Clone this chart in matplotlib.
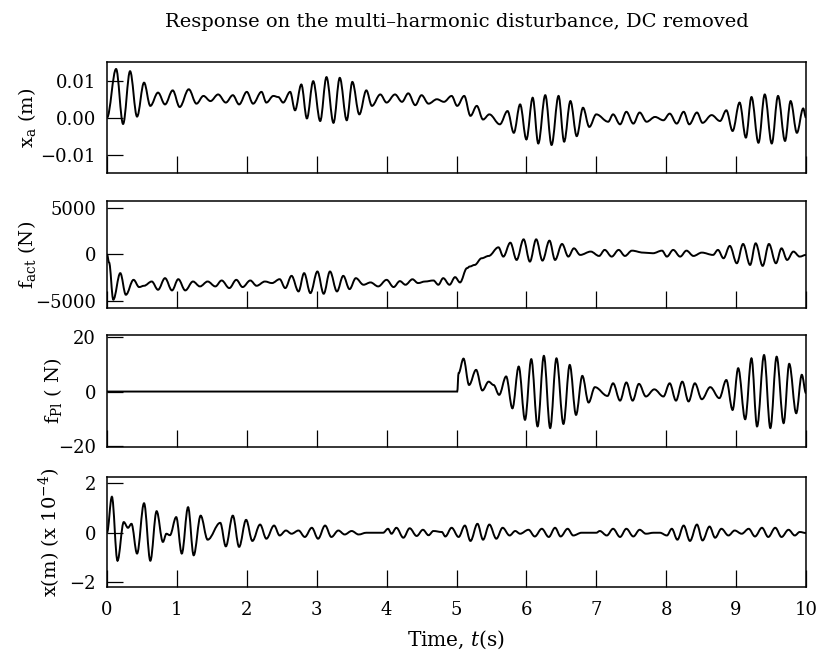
import matplotlib
matplotlib.use("Agg")
import matplotlib.pyplot as plt
from matplotlib.path import Path
from matplotlib.patches import PathPatch

plt.rcParams['font.family'] = 'DejaVu Serif'
plt.rcParams['mathtext.fontset'] = 'dejavuserif'

# (time s, value) pairs at peaks / troughs
xa_pts = [(0.00, 0.0), (0.13, 0.0132), (0.23, -0.0017), (0.33, 0.0126), (0.43, 0.0003),
          (0.53, 0.0095), (0.62, 0.0032), (0.73, 0.0068), (0.83, 0.0036), (0.94, 0.0074),
          (1.04, 0.0029), (1.17, 0.0077), (1.28, 0.0038), (1.38, 0.0059), (1.48, 0.0045),
          (1.59, 0.0063), (1.70, 0.0041), (1.80, 0.0061), (1.89, 0.0036), (2.00, 0.0070),
          (2.09, 0.0038), (2.21, 0.0070), (2.28, 0.0041), (2.38, 0.0059), (2.45, 0.0056),
          (2.52, 0.0041), (2.62, 0.0070), (2.69, 0.0020), (2.78, 0.0090), (2.86, -0.0002),
          (2.95, 0.0099), (3.05, -0.0009), (3.14, 0.0110), (3.24, -0.0014), (3.33, 0.0108),
          (3.43, -0.0007), (3.51, 0.0097), (3.61, 0.0009), (3.71, 0.0074), (3.79, 0.0032),
          (3.91, 0.0063), (4.00, 0.0041), (4.12, 0.0063), (4.22, 0.0043), (4.31, 0.0066),
          (4.41, 0.0034), (4.50, 0.0061), (4.60, 0.0038), (4.72, 0.0050), (4.82, 0.0043),
          (4.93, 0.0059), (5.01, 0.0032), (5.11, 0.0059), (5.20, 0.0005), (5.29, 0.0032),
          (5.38, -0.0005), (5.47, 0.0009), (5.62, -0.0018), (5.73, 0.0018), (5.82, -0.0041),
          (5.91, 0.0036), (6.00, -0.0059), (6.09, 0.0054), (6.17, -0.0070), (6.27, 0.0061),
          (6.36, -0.0074), (6.46, 0.0059), (6.54, -0.0065), (6.63, 0.0045), (6.72, -0.0050),
          (6.81, 0.0027), (6.90, -0.0025), (7.00, 0.0009), (7.17, -0.0011), (7.24, 0.0009),
          (7.34, -0.0018), (7.43, 0.0016), (7.53, -0.0016), (7.62, 0.0014), (7.72, -0.0011),
          (7.84, 0.0002), (7.96, -0.0007), (8.05, 0.0011), (8.15, -0.0016), (8.25, 0.0016),
          (8.33, -0.0018), (8.44, 0.0014), (8.52, -0.0014), (8.65, 0.0007), (8.77, -0.0009),
          (8.86, 0.0020), (8.95, -0.0036), (9.05, 0.0041), (9.14, -0.0054), (9.22, 0.0056),
          (9.32, -0.0068), (9.41, 0.0063), (9.51, -0.0070), (9.60, 0.0059), (9.70, -0.0063),
          (9.78, 0.0045), (9.87, -0.0041), (9.96, 0.0025), (10.0, 0.0)]

fact_pts = [(0.00, 0), (0.03, -900), (0.09, -4900), (0.19, -2040), (0.27, -4370),
            (0.38, -2760), (0.46, -3540), (0.53, -3400), (0.64, -2940), (0.73, -3830),
            (0.83, -2580), (0.93, -3900), (1.02, -2690), (1.12, -3900), (1.23, -2940),
            (1.33, -3470), (1.44, -2940), (1.55, -3470), (1.64, -2830), (1.75, -3650),
            (1.85, -2760), (1.94, -3540), (2.05, -2830), (2.14, -3400), (2.26, -2940),
            (2.36, -3110), (2.47, -2690), (2.55, -3650), (2.64, -2330), (2.74, -4010),
            (2.82, -2040), (2.91, -4190), (3.01, -1860), (3.10, -4260), (3.19, -1860),
            (3.29, -4010), (3.38, -2330), (3.47, -3760), (3.56, -2580), (3.67, -3290),
            (3.77, -3040), (3.88, -3470), (4.00, -2760), (4.10, -3540), (4.19, -2900),
            (4.27, -3290), (4.37, -2700), (4.45, -3110), (4.55, -2940), (4.67, -2830),
            (4.74, -3290), (4.81, -2580), (4.90, -3290), (4.98, -2470), (5.05, -3040),
            (5.15, -1500), (5.19, -1320), (5.26, -1150), (5.36, -430), (5.46, -180),
            (5.60, 750), (5.67, -250), (5.77, 1250), (5.86, -610), (5.96, 1610),
            (6.05, -790), (6.14, 1610), (6.23, -680), (6.33, 1470), (6.41, -610),
            (6.51, 1110), (6.60, -250), (6.68, 640), (6.77, -70), (6.92, 290),
            (7.04, -180), (7.12, 470), (7.22, -250), (7.32, 470), (7.41, -180),
            (7.51, 390), (7.67, 180), (7.81, 110), (7.94, 390), (8.01, -250),
            (8.10, 470), (8.20, -250), (8.29, 390), (8.39, -180), (8.51, 180),
            (8.67, -70), (8.74, 470), (8.82, -430), (8.91, 900), (9.01, -970),
            (9.10, 1110), (9.20, -1150), (9.28, 1180), (9.38, -1250), (9.47, 1110),
            (9.57, -970), (9.65, 640), (9.73, -610), (9.82, 290), (9.91, -250),
            (10.0, -70)]

fpl_pts = [(0.00, 0.0), (5.01, 0.0), (5.03, 6.7), (5.10, 12.0), (5.18, 2.4), (5.28, 7.9),
           (5.37, 0.4), (5.46, 3.6), (5.53, 2.4), (5.61, -1.2), (5.71, 5.5), (5.80, -6.1),
           (5.89, 9.1), (5.98, -10.3), (6.07, 11.8), (6.16, -12.7), (6.25, 13.0), (6.34, -13.3),
           (6.43, 12.1), (6.53, -11.8), (6.62, 9.7), (6.71, -8.5), (6.80, 5.7), (6.89, -4.0),
           (6.98, 1.6), (7.16, -1.6), (7.24, 3.0), (7.34, -3.3), (7.43, 3.3), (7.52, -3.3),
           (7.61, 2.8), (7.71, -1.8), (7.83, 0.8), (7.96, -1.8), (8.05, 3.0), (8.14, -3.3),
           (8.23, 3.6), (8.32, -3.6), (8.41, 3.0), (8.51, -2.8), (8.63, 1.6), (8.76, -2.4),
           (8.86, 4.2), (8.95, -6.7), (9.03, 8.5), (9.13, -10.1), (9.22, 12.1), (9.30, -12.7),
           (9.40, 13.3), (9.49, -13.3), (9.58, 12.7), (9.68, -11.5), (9.76, 10.1), (9.86, -7.9),
           (9.94, 6.1), (10.0, -0.6)]

# x in units of 1e-4 m
x_pts = [(0.00, 0.0), (0.07, 1.45), (0.15, -1.13), (0.24, 0.43), (0.30, 0.2), (0.35, 0.36),
         (0.43, -0.84), (0.53, 1.19), (0.62, -1.13), (0.71, 0.87), (0.80, -0.37), (0.85, -0.04),
         (0.90, -0.1), (0.99, 0.63), (1.07, -0.84), (1.16, 1.03), (1.24, -0.91), (1.34, 0.69),
         (1.44, -0.28), (1.62, 0.4), (1.70, -0.55), (1.80, 0.69), (1.89, -0.57), (1.99, 0.52),
         (2.08, -0.33), (2.19, 0.33), (2.28, -0.24), (2.39, 0.29), (2.47, -0.11), (2.56, 0.09),
         (2.64, -0.04), (2.74, 0.09), (2.83, -0.17), (2.93, 0.2), (3.02, -0.24), (3.12, 0.29),
         (3.21, -0.17), (3.31, 0.09), (3.40, -0.07), (3.50, 0.07), (3.60, -0.07), (3.71, 0.0),
         (3.95, 0.0), (4.02, 0.16), (4.07, -0.04), (4.14, 0.2), (4.24, -0.2), (4.33, 0.18),
         (4.43, -0.13), (4.52, 0.12), (4.60, -0.1), (4.67, 0.07), (4.79, 0.03), (4.84, -0.15),
         (4.93, 0.2), (5.03, -0.17), (5.12, 0.29), (5.20, -0.33), (5.30, 0.36), (5.38, -0.28),
         (5.47, 0.33), (5.57, -0.24), (5.66, 0.2), (5.76, -0.11), (5.84, 0.07), (5.91, -0.04),
         (6.03, 0.12), (6.12, -0.15), (6.22, 0.16), (6.32, -0.17), (6.41, 0.2), (6.49, -0.15),
         (6.59, 0.16), (6.67, -0.11), (6.79, 0.0), (7.00, 0.0), (7.05, 0.07), (7.15, -0.11),
         (7.24, 0.16), (7.34, -0.17), (7.43, 0.16), (7.53, -0.15), (7.62, 0.12), (7.71, -0.04),
         (7.82, 0.0), (7.91, 0.0), (8.01, -0.11), (8.08, 0.16), (8.16, -0.28), (8.25, 0.29),
         (8.34, -0.33), (8.44, 0.33), (8.52, -0.31), (8.62, 0.25), (8.70, -0.2), (8.79, 0.16),
         (8.89, -0.11), (8.98, 0.09), (9.08, -0.04), (9.18, 0.16), (9.27, -0.15), (9.37, 0.2),
         (9.46, -0.17), (9.56, 0.2), (9.65, -0.17), (9.75, 0.12), (9.84, -0.11), (9.91, 0.03),
         (10.0, -0.01)]

ylabels = [r'x$_{\rm a}$ (m)', r'f$_{\rm act}$ (N)', r'f$_{\rm Pl}$ ( N)', r'x(m) (x 10$^{-4}$)']
yticks = [[-0.01, 0.0, 0.01], [-5000, 0, 5000], [-20, 0, 20], [-2, 0, 2]]
yticklabels = [['\u22120.01', '0.00', '0.01'], ['\u22125000', '0', '5000'],
               ['\u221220', '0', '20'], ['\u22122', '0', '2']]
ylims = [(-0.015, 0.0151), (-5800, 5750), (-20.2, 20.6), (-2.19, 2.25)]
xticks = list(range(0, 11))


def smooth_path(pts):
    # peaks/troughs joined by cubic Bezier segments (flat tangent at each extremum)
    verts = [pts[0]]
    codes = [Path.MOVETO]
    for (t0, v0), (t1, v1) in zip(pts[:-1], pts[1:]):
        dt = t1 - t0
        verts += [(t0 + 0.36 * dt, v0), (t1 - 0.36 * dt, v1), (t1, v1)]
        codes += [Path.CURVE4] * 3
    return Path(verts, codes)


W, H = 817, 656
fig = plt.figure(figsize=(W / 100, H / 100), dpi=100)

# panel extents in pixels (top, bottom)
boxes = [(62, 173), (201, 308), (335, 447), (477, 587)]
left, right = 107, 806
label_x = [27, 27, 53, 50]

data = [xa_pts, fact_pts, fpl_pts, x_pts]
for i in range(4):
    top, bot = boxes[i]
    ax = fig.add_axes([left / W, 1 - bot / H, (right - left) / W, (bot - top) / H])
    ax.add_patch(PathPatch(smooth_path(data[i]), fill=False, edgecolor='black', lw=1.4))
    ax.set_xlim(0, 10)
    ax.set_ylim(*ylims[i])
    ax.set_yticks(yticks[i])
    ax.set_yticklabels(yticklabels[i])
    ax.set_xticks(xticks)
    ax.tick_params(axis='y', direction='in', length=11.5, width=0.9, labelsize=13, pad=8)
    ax.tick_params(axis='x', direction='in', length=12, width=0.9, labelsize=13, pad=10)
    if i < 3:
        ax.tick_params(axis='x', labelbottom=False)
    for s in ax.spines.values():
        s.set_linewidth(1.1)
    ax.set_ylabel(ylabels[i], fontsize=14)
    ax.yaxis.label.set_va('center')
    ax.yaxis.set_label_coords((label_x[i] - left) / (right - left), 0.5)

fig.text((left + right) / 2 / W, 1 - 22 / H,
         'Response on the multi\u2013harmonic disturbance, DC removed',
         ha='center', va='center', fontsize=14)
fig.text((left + right) / 2 / W, 1 - 640 / H, r'Time, $t$(s)',
         ha='center', va='center', fontsize=14.5)

fig.savefig('out.png', dpi=100)
